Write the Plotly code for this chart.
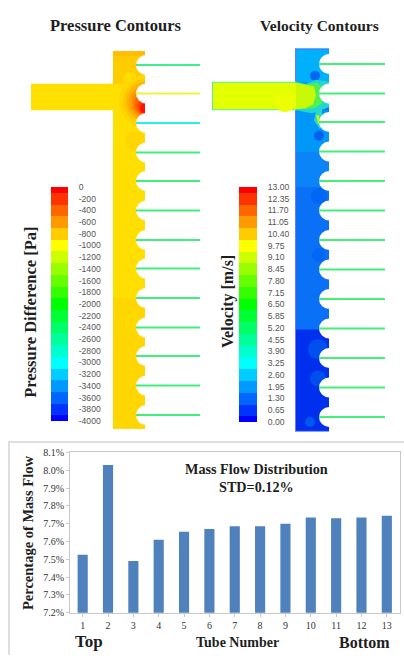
import plotly.graph_objects as go

W, H = 404, 661

# ---- data ----
tube_numbers = list(range(1, 14))
mass_flow_pct = [7.525, 8.03, 7.49, 7.61, 7.655, 7.67, 7.685, 7.685, 7.70, 7.735, 7.73, 7.735, 7.745]
y_ticks = [7.2, 7.3, 7.4, 7.5, 7.6, 7.7, 7.8, 7.9, 8.0, 8.1]
y_tick_labels = ["7.2%", "7.3%", "7.4%", "7.5%", "7.6%", "7.7%", "7.8%", "7.9%", "8.0%", "8.1%"]

pressure_levels = [-4000 + 200 * i for i in range(21)]
velocity_levels = [0.65 * i for i in range(21)]
pressure_labels = [str(v) for v in pressure_levels]
velocity_labels = ["%.2f" % v for v in velocity_levels]

pressure_tube_y = [61, 90, 120, 150, 179, 209, 239, 268, 298, 328, 357, 387, 417]
velocity_tube_y = [60, 90, 119, 149, 179, 209, 239, 269, 299, 329, 359, 389, 419]
pressure_tube_colors = ["#3CF08C", "#F4F03C", "#28F0E6"] + ["#40F07C"] * 10
velocity_tube_colors = ["#44F078"] * 13

rainbow = [[0, "#0000FF"], [0.25, "#00FFFF"], [0.5, "#00FF00"], [0.75, "#FFFF00"], [1, "#FF0000"]]

# pressure field: rectangles (x0, y0, x1, y1, colour), blobs (cx, cy, r, colour)
p_rects = [
    (31, 80, 113, 107, "#FFE000"),
    (113, 47, 145, 431, "#FFDF00"),
    (113, 47, 145, 80, "#FFCC00"),
    (113, 47, 145, 52, "#FFBC00"),
    (113, 298, 145, 431, "#FFD600"),
]
p_blobs = [
    (130, 75, 7, "#FFDC00"),
    (135, 138, 10, "#FFD600"),
    (132, 322, 8, "#FFDA00"),
    (146, 98, 27, "#FFD600"),
    (146, 98, 23, "#FFC800"),
    (146, 98, 20, "#FFB400"),
    (146, 99, 17, "#FFA000"),
    (146, 100, 14, "#FF8400"),
    (146, 101, 11.5, "#FF6400"),
    (146, 103, 8.5, "#FF4000"),
    (145, 105, 5, "#FF1000"),
]
# velocity field
v_rects = [
    (296, 45, 329, 433, "#0A70F6"),
    (296, 45, 329, 79, "#00B0FA"),
    (296, 107, 329, 150, "#0098F8"),
    (296, 150, 329, 185, "#0A84F6"),
    (296, 330, 329, 433, "#0030EE"),
    (213, 79, 296, 106, "#E4FF00"),
]
v_blobs = [
    (285, 99, 10, "#ECFF00"),
    (315, 72, 5, "#0068F2"),
    (319, 133, 5, "#0060F2"),
    (319, 194, 8, "#0066F4"),
    (319, 254, 7, "#0066F4"),
    (318, 350, 10, "#0050F0"),
    (318, 380, 8, "#0050F0"),
    (310, 424, 5, "#0058F2"),
]
v_throat_outer = [(296, 78), (306, 80), (316, 76), (329, 78), (329, 104), (318, 108), (312, 110), (296, 107)]
v_throat_mid = [(296, 79), (306, 81), (317, 79), (322, 84), (322, 100), (314, 105), (296, 106)]
v_throat_inner = [(296, 79), (306, 81), (314, 83), (316, 92), (313, 101), (306, 105), (296, 106)]
v_tube3_glow = [(316, 106), (322, 104), (322, 122), (320, 126), (314, 118)]
v_tube3_hot = [(316, 112), (319, 112), (320, 120), (318, 121)]

# ---- figure ----
fig = go.Figure()

fig.add_trace(go.Bar(x=tube_numbers, y=mass_flow_pct, width=0.4, marker_color="#4F81BD",
                     marker_line_width=0, xaxis="x", yaxis="y", hoverinfo="skip"))

for tys, colors, x0, x1 in [(pressure_tube_y, pressure_tube_colors, 136, 200),
                            (velocity_tube_y, velocity_tube_colors, 319, 385)]:
    for ty, c in zip(tys, colors):
        fig.add_trace(go.Scatter(x=[x0, x1], y=[ty, ty], mode="lines", line=dict(color=c, width=2),
                                 xaxis="x2", yaxis="y2", hoverinfo="skip"))

fig.add_trace(go.Heatmap(x=[0], y=pressure_levels, z=[[v] for v in pressure_levels], colorscale=rainbow,
                         showscale=False, xaxis="x3", yaxis="y3", hoverinfo="skip"))
fig.add_trace(go.Heatmap(x=[0], y=velocity_levels, z=[[v] for v in velocity_levels], colorscale=rainbow,
                         showscale=False, xaxis="x4", yaxis="y4", hoverinfo="skip"))

shapes = []
def rect(x0, y0, x1, y1, c, line=None):
    shapes.append(dict(type="rect", xref="x2", yref="y2", x0=x0, y0=y0, x1=x1, y1=y1, fillcolor=c,
                       line=line or dict(width=0), layer="below"))
def disc(cx, cy, r, c):
    shapes.append(dict(type="circle", xref="x2", yref="y2", x0=cx - r, y0=cy - r, x1=cx + r, y1=cy + r,
                       fillcolor=c, line=dict(width=0), layer="below"))
def poly(points, c):
    path = "M " + " L ".join("%g %g" % p for p in points) + " Z"
    shapes.append(dict(type="path", xref="x2", yref="y2", path=path, fillcolor=c,
                       line=dict(width=0), layer="below"))

for r_ in p_rects:
    rect(*r_)
for b in p_blobs:
    disc(*b)
rect(145, 44, 212, 435, "#FFFFFF")
for ty in pressure_tube_y:
    disc(146.2, ty, 10.2, "#FFFFFF")

# velocity outline glow
rect(295, 44, 330, 434, "#6A78FF")
rect(212, 78, 297, 107, "#50F0A0")
for r_ in v_rects:
    rect(*r_)
for b in v_blobs:
    disc(*b)
poly(v_throat_outer, "#20D8D0")
poly(v_throat_mid, "#50F050")
poly(v_throat_inner, "#C8FA08")
poly(v_tube3_glow, "#20D8D0")
poly(v_tube3_hot, "#D0F000")
rect(329, 44, 404, 435, "#FFFFFF")
for ty in velocity_tube_y:
    disc(329.2, ty, 10.2, "#FFFFFF")

# bottom frame
rect(9, 444.5, 406, 663, "rgba(0,0,0,0)", dict(color="#D4D4D4", width=1.5))

SERIF = "Liberation Serif"
def note(text, x, y, size, angle=0, bold=True, color="#1E1E1E"):
    return dict(text=("<b>%s</b>" % text) if bold else text, x=x, y=y, xref="x2", yref="y2",
                showarrow=False, textangle=angle, xanchor="center", yanchor="middle",
                font=dict(family=SERIF, size=size, color=color))

annotations = [
    note("Pressure Contours", 116, 21, 16.5),
    note("Velocity Contours", 319, 21, 15.5),
    note("Pressure Difference [Pa]", 31, 313, 16.5, -90),
    note("Velocity [m/s]", 228, 302, 16, -90),
    note("Mass Flow Distribution", 256, 472, 14.2),
    note("STD=0.12%", 256, 490, 14.2),
    note("Top", 89, 647, 17),
    note("Tube Number", 237, 648, 14),
    note("Bottom", 364, 648, 16),
    note("Percentage of Mass Flow", 28, 537, 14.5, -90),
]

def dx(a, b):
    return [a / W, b / W]
def dy(top, bottom):
    return [1 - bottom / H, 1 - top / H]

cb_font = dict(family="Liberation Sans", size=8.6, color="#555555")
bar_font = dict(family=SERIF, size=10, color="#333333")

fig.update_layout(
    width=W, height=H, autosize=False, showlegend=False,
    margin=dict(l=0, r=0, t=0, b=0), paper_bgcolor="#FFFFFF", plot_bgcolor="rgba(0,0,0,0)",
    shapes=shapes, annotations=annotations,
    xaxis=dict(domain=dx(70, 399.5), range=[0.5, 13.5], tickvals=tube_numbers, ticks="outside", ticklen=3,
               tickcolor="#C8C8C8", linecolor="#C8C8C8", linewidth=1, mirror=True, showgrid=False,
               zeroline=False, tickfont=bar_font, anchor="y"),
    yaxis=dict(domain=dy(455, 618), range=[7.2, 8.1], tickvals=y_ticks, ticktext=y_tick_labels,
               ticks="outside", ticklen=3, tickcolor="#C8C8C8", linecolor="#C8C8C8", linewidth=1, mirror=True,
               showgrid=False, zeroline=False, tickfont=bar_font, anchor="x"),
    xaxis2=dict(domain=[0, 1], range=[0, W], visible=False, anchor="y2"),
    yaxis2=dict(domain=[0, 1], range=[H, 0], visible=False, anchor="x2"),
    xaxis3=dict(domain=dx(51, 68), range=[-0.5, 0.5], visible=False, anchor="y3"),
    yaxis3=dict(domain=dy(185, 423), range=[-4000, 0], side="right", anchor="x3", tickvals=pressure_levels,
                ticktext=pressure_labels, ticks="outside", ticklen=8, tickcolor="rgba(0,0,0,0)",
                showline=False, showgrid=False, zeroline=False, tickfont=cb_font),
    xaxis4=dict(domain=dx(239, 257), range=[-0.5, 0.5], visible=False, anchor="y4"),
    yaxis4=dict(domain=dy(185, 424), range=[0, 13], side="right", anchor="x4", tickvals=velocity_levels,
                ticktext=velocity_labels, ticks="outside", ticklen=8, tickcolor="rgba(0,0,0,0)",
                showline=False, showgrid=False, zeroline=False, tickfont=cb_font),
)

fig.write_html("out.html", config=dict(displayModeBar=False),
               post_script="document.body.style.margin='0';document.documentElement.style.overflow='hidden';")
